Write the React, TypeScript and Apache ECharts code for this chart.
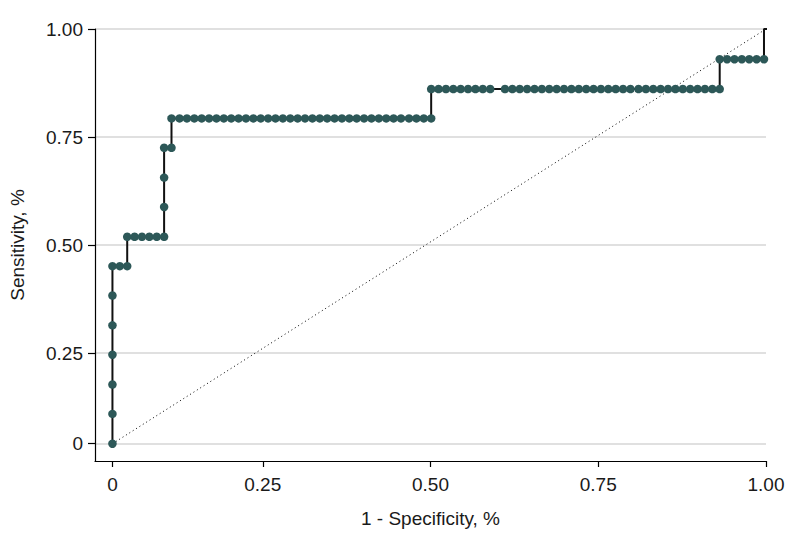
import React, { useEffect, useRef } from "react";
import * as echarts from "echarts";

// ROC curve points (x = 1 - specificity, y = sensitivity)
const fpr = [
  0.026, 0.026, 0.026, 0.026, 0.026, 0.026, 0.026,
  0.037, 0.048,
  0.048, 0.059, 0.070, 0.081, 0.092, 0.103,
  0.103, 0.103, 0.103,
  0.114,
  0.114, 0.126, 0.137, 0.148, 0.159, 0.170, 0.181, 0.192, 0.203, 0.214,
  0.225, 0.236, 0.247, 0.258, 0.269, 0.280, 0.291, 0.302, 0.313, 0.324,
  0.335, 0.346, 0.357, 0.368, 0.379, 0.390, 0.401, 0.412, 0.423, 0.434,
  0.445, 0.456, 0.468, 0.479, 0.490, 0.501,
  0.501, 0.512, 0.523, 0.534, 0.545, 0.556, 0.567, 0.578, 0.589,
  0.611, 0.622, 0.633, 0.644, 0.655, 0.666, 0.677, 0.688, 0.699, 0.710,
  0.721, 0.732, 0.743, 0.754, 0.765, 0.776, 0.787, 0.798, 0.810, 0.821,
  0.832, 0.843, 0.854, 0.865, 0.876, 0.887, 0.898, 0.909, 0.920, 0.931,
  0.931, 0.942, 0.953, 0.964, 0.975, 0.986, 0.997,
  0.997, 1.006,
];
const sensitivity = [
  0.040, 0.109, 0.177, 0.246, 0.314, 0.383, 0.451,
  0.451, 0.451,
  0.519, 0.519, 0.519, 0.519, 0.519, 0.519,
  0.588, 0.656, 0.725,
  0.725,
  0.793, 0.793, 0.793, 0.793, 0.793, 0.793, 0.793, 0.793, 0.793, 0.793,
  0.793, 0.793, 0.793, 0.793, 0.793, 0.793, 0.793, 0.793, 0.793, 0.793,
  0.793, 0.793, 0.793, 0.793, 0.793, 0.793, 0.793, 0.793, 0.793, 0.793,
  0.793, 0.793, 0.793, 0.793, 0.793, 0.793,
  0.861, 0.861, 0.861, 0.861, 0.861, 0.861, 0.861, 0.861, 0.861,
  0.861, 0.861, 0.861, 0.861, 0.861, 0.861, 0.861, 0.861, 0.861, 0.861,
  0.861, 0.861, 0.861, 0.861, 0.861, 0.861, 0.861, 0.861, 0.861, 0.861,
  0.861, 0.861, 0.861, 0.861, 0.861, 0.861, 0.861, 0.861, 0.861, 0.861,
  0.930, 0.930, 0.930, 0.930, 0.930, 0.930, 0.930,
  1.000, 1.000,
];
// the last two points are drawn without a marker
const markerlessCount = 2;

// reference (chance) diagonal
const diagonalX = [0.026, 1.0];
const diagonalY = [0.04, 1.0];

// axis ticks
const xTickValues = [0.026, 0.25, 0.5, 0.75, 1.0];
const yTickValues = [0.04, 0.25, 0.5, 0.75, 1.0];
const tickLabels = ["0", "0.25", "0.50", "0.75", "1.00"];

const FONT = "'Liberation Sans', Arial, sans-serif";
const TEXT = "#1a1a1a";

function labelFor(values: number[]) {
  return (v: number) => {
    let best = 0;
    for (let i = 1; i < values.length; i++) {
      if (Math.abs(values[i] - v) < Math.abs(values[best] - v)) best = i;
    }
    return tickLabels[best];
  };
}

export default function App() {
  const ref = useRef<HTMLDivElement>(null);
  useEffect(() => {
    document.body.style.margin = "0";
    if (!ref.current) return;
    const chart = echarts.init(ref.current, undefined, { renderer: "svg" });
    const n = fpr.length;
    const curve = fpr.map((x, i) =>
      i >= n - markerlessCount
        ? { value: [x, sensitivity[i]], symbol: "none" }
        : { value: [x, sensitivity[i]] }
    );
    chart.setOption({
      animation: false,
      backgroundColor: "#ffffff",
      grid: { left: 89, right: 28, top: 29, bottom: 85, containLabel: false },
      xAxis: {
        type: "value",
        min: 0,
        max: 1,
        name: "1 - Specificity, %",
        nameLocation: "middle",
        nameGap: 48,
        nameTextStyle: { fontFamily: FONT, fontSize: 19, color: TEXT },
        axisLine: { show: true, onZero: false, lineStyle: { color: "#000", width: 1.2 } },
        axisTick: { show: true, length: 6, customValues: xTickValues, lineStyle: { color: "#000", width: 1.2 } },
        axisLabel: {
          customValues: xTickValues,
          formatter: labelFor(xTickValues),
          fontFamily: FONT,
          fontSize: 19,
          color: TEXT,
          margin: 14,
        },
        splitLine: { show: false },
      },
      yAxis: {
        type: "value",
        min: 0,
        max: 1,
        name: "Sensitivity, %",
        nameLocation: "middle",
        nameGap: 68,
        nameTextStyle: { fontFamily: FONT, fontSize: 19, color: TEXT },
        axisLine: { show: true, onZero: false, lineStyle: { color: "#000", width: 1.2 } },
        axisTick: { show: true, length: 7, customValues: yTickValues, lineStyle: { color: "#000", width: 1.2 } },
        axisLabel: {
          customValues: yTickValues,
          formatter: labelFor(yTickValues),
          fontFamily: FONT,
          fontSize: 19,
          color: TEXT,
          margin: 12,
        },
        splitLine: { show: true, lineStyle: { color: "#d6d6d6", width: 1.6 } },
      },
      series: [
        {
          type: "line",
          data: diagonalX.map((x, i) => [x, diagonalY[i]]),
          symbol: "none",
          silent: true,
          lineStyle: { color: "#000", width: 1, type: [1, 3] },
          z: 2,
        },
        {
          type: "line",
          data: curve,
          symbol: "circle",
          symbolSize: 8.5,
          showAllSymbol: true,
          clip: false,
          silent: true,
          itemStyle: { color: "#2d5858", borderWidth: 0 },
          lineStyle: { color: "#111", width: 2 },
          emphasis: { disabled: true },
          z: 3,
        },
      ],
    });
    return () => chart.dispose();
  }, []);
  return <div ref={ref} style={{ width: 794, height: 546 }} />;
}
